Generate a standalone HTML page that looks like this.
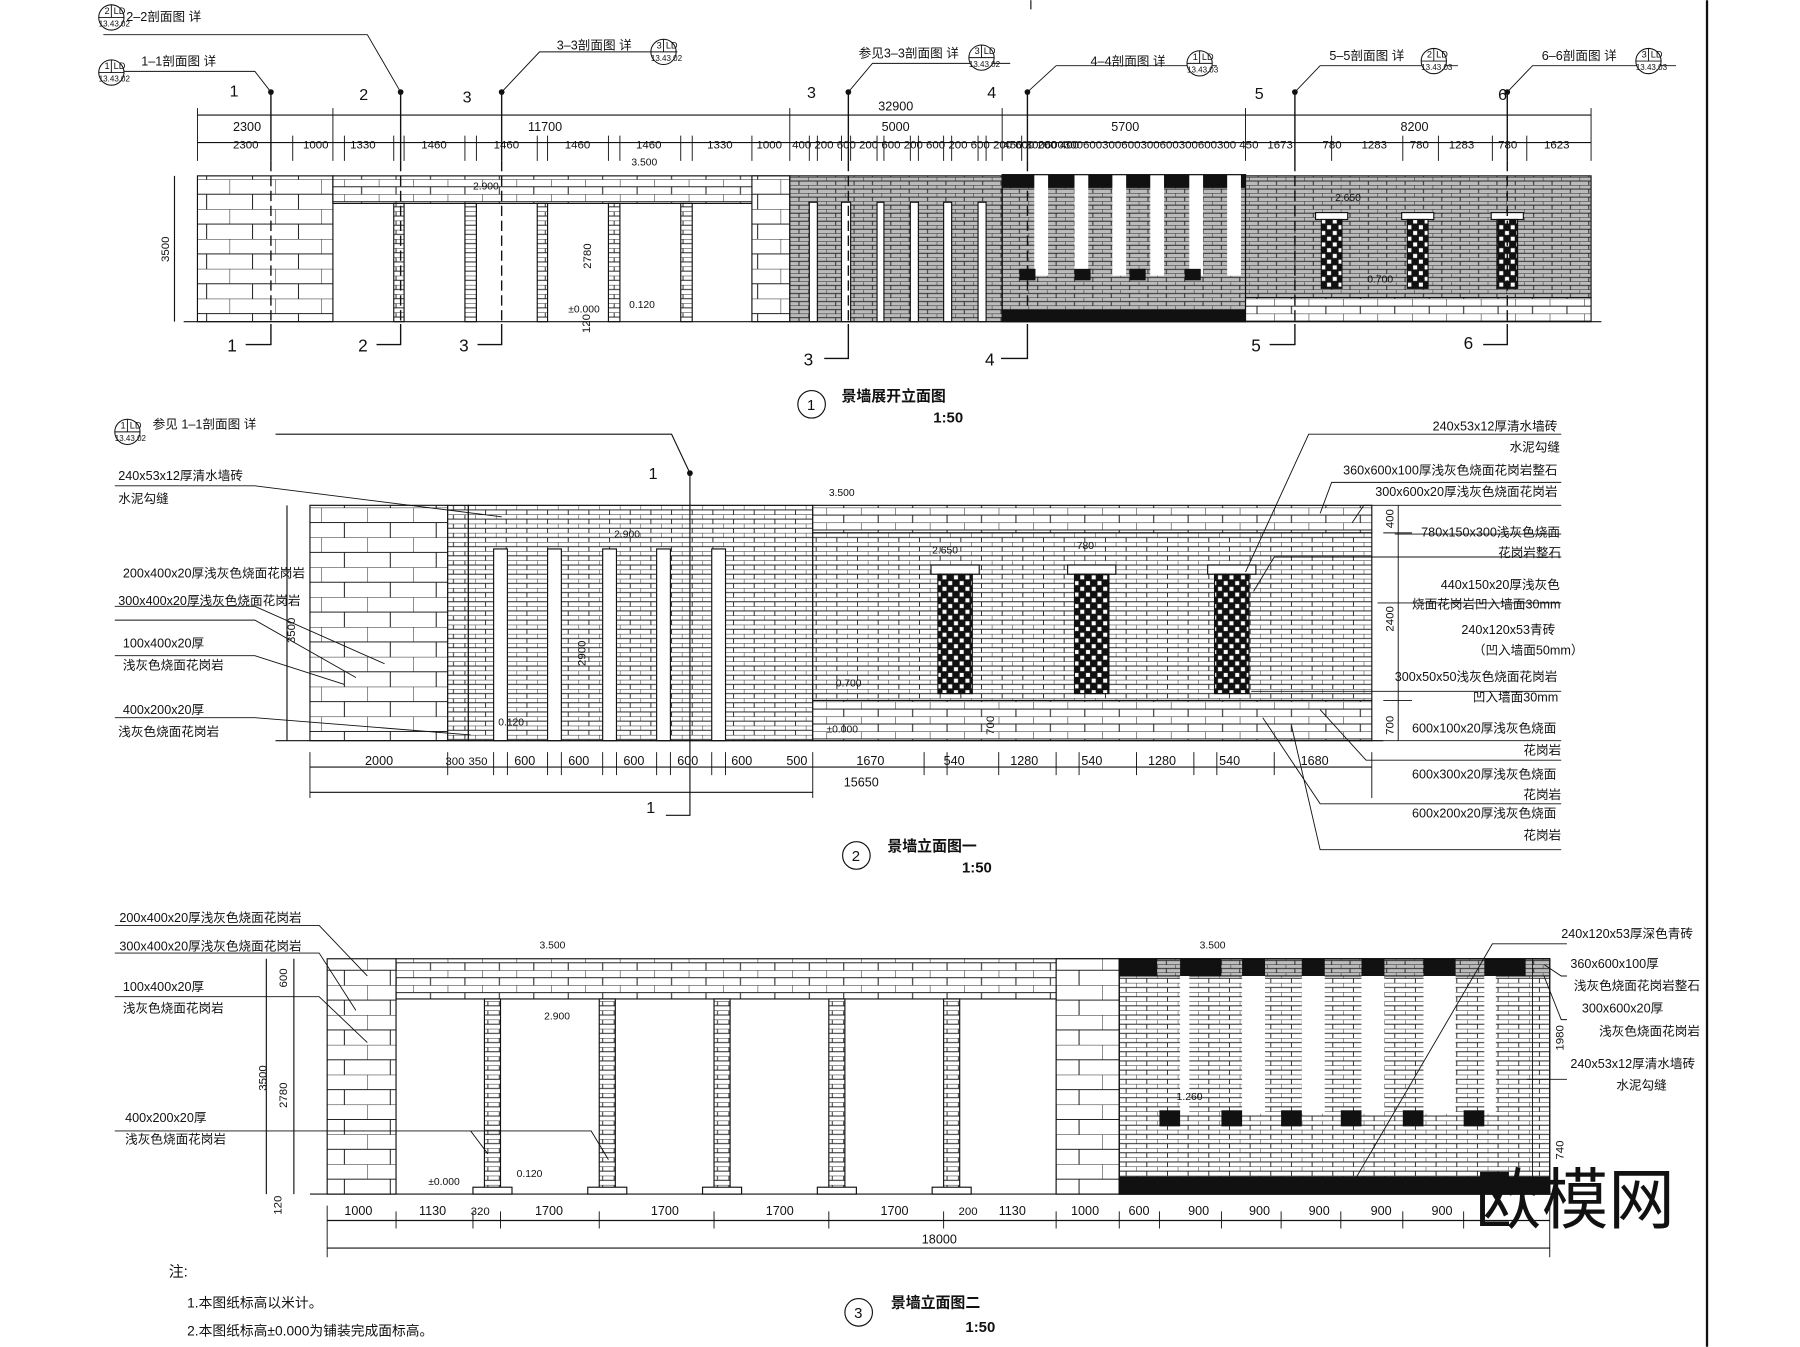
<!DOCTYPE html>
<html><head><meta charset="utf-8"><style>
html,body{margin:0;padding:0;background:#fff}
svg{display:block}
text{font-family:"Liberation Sans","Noto Sans CJK SC",sans-serif;fill:#111}
</style></head><body>
<svg width="1800" height="1347" viewBox="0 0 1568 1173" xmlns="http://www.w3.org/2000/svg">
<defs>
<pattern id="brk" width="18" height="8" patternUnits="userSpaceOnUse">
<rect width="18" height="8" fill="#fff"/>
<path d="M0 0H18M0 4H18M0 0V4M9 4V8" stroke="#222" stroke-width="0.8" fill="none"/>
</pattern>
<pattern id="brk2" width="16" height="7" patternUnits="userSpaceOnUse">
<rect width="16" height="7" fill="#bbb"/>
<path d="M0 0H16M0 3.5H16M0 0V3.5M8 3.5V7" stroke="#222" stroke-width="0.8" fill="none"/>
</pattern>
<pattern id="stn" width="40" height="26" patternUnits="userSpaceOnUse">
<rect width="40" height="26" fill="#fff"/>
<path d="M0 0H40M0 13H40M0 0V13M20 13V26" stroke="#222" stroke-width="0.9" fill="none"/>
</pattern>
<pattern id="stn2" width="30" height="13" patternUnits="userSpaceOnUse">
<rect width="30" height="13" fill="#fff"/>
<path d="M0 0H30M0 6.5H30M0 0V6.5M15 6.5V13" stroke="#222" stroke-width="0.9" fill="none"/>
</pattern>
<pattern id="col" width="10" height="8" patternUnits="userSpaceOnUse">
<rect width="10" height="8" fill="#fff"/>
<path d="M0 0H10M0 4H10M5 0V4" stroke="#222" stroke-width="0.8"/>
</pattern>
<pattern id="chk" width="10" height="10" patternUnits="userSpaceOnUse">
<rect width="10" height="10" fill="#111"/>
<rect x="1" y="1" width="3.5" height="3.5" fill="#fff"/><rect x="6" y="6" width="3.5" height="3.5" fill="#fff"/>
</pattern>
<g id="sym">
<circle cx="0" cy="0" r="11" fill="#fff" stroke="#111" stroke-width="0.9"/>
<line x1="-11" y1="0" x2="11" y2="0" stroke="#111" stroke-width="0.8"/>
<line x1="0" y1="-11" x2="0" y2="0" stroke="#111" stroke-width="0.8"/>
</g>
</defs>
<g stroke="#111" fill="none" stroke-width="1">
<line x1="1487" y1="0" x2="1487" y2="1173" stroke-width="2"/>
<line x1="898" y1="0" x2="898" y2="8"/>

<!-- ============ SECTION 1 ============ -->
<line x1="172" y1="100" x2="1386" y2="100"/>
<line x1="172" y1="124" x2="1386" y2="124"/>
<g stroke-width="0.8">
<path d="M172 94V140M290 94V140M688 94V140M873 94V140M1085 94V140M1386 94V140"/>
<path d="M255 118V140M300 118V140M343 118V140M352 118V140M405 118V140M415 118V140M468 118V140M477 118V140M530 118V140M540 118V140M593 118V140M603 118V140M655 118V140M705 118V140M712 118V140M733 118V140M741 118V140M764 118V140M770 118V140M793 118V140M800 118V140M822 118V140M829 118V140M852 118V140M859 118V140M890 118V140M1128 118V140M1160 118V140M1222 118V140M1253 118V140M1300 118V140M1330 118V140"/>
</g>
<rect x="172" y="153" width="118" height="127" fill="url(#stn)"/>
<rect x="290" y="153" width="398" height="24" fill="url(#stn2)"/>
<rect x="655" y="153" width="33" height="127" fill="url(#stn)"/>
<g fill="url(#col)">
<rect x="343" y="177" width="9" height="103"/><rect x="405" y="177" width="10" height="103"/>
<rect x="468" y="177" width="9" height="103"/><rect x="530" y="177" width="10" height="103"/>
<rect x="593" y="177" width="10" height="103"/>
</g>
<rect x="688" y="153" width="185" height="127" fill="url(#brk2)"/>
<g fill="#fff"><rect x="705" y="176" width="7" height="104"/><rect x="733" y="176" width="8" height="104"/><rect x="764" y="176" width="6" height="104"/><rect x="793" y="176" width="7" height="104"/><rect x="822" y="176" width="7" height="104"/><rect x="852" y="176" width="7" height="104"/></g>
<rect x="873" y="153" width="212" height="127" fill="url(#brk2)"/>
<rect x="873" y="152" width="212" height="11" fill="#111"/>
<rect x="873" y="270" width="212" height="10" fill="#111"/>
<g fill="#fff" stroke="none"><rect x="901" y="152" width="12" height="88"/><rect x="936" y="152" width="12" height="88"/><rect x="969" y="152" width="12" height="88"/><rect x="1002" y="152" width="12" height="88"/><rect x="1036" y="152" width="12" height="88"/><rect x="1069" y="152" width="12" height="88"/></g>
<g fill="#111" stroke="none"><rect x="888" y="234" width="14" height="10"/><rect x="936" y="234" width="14" height="10"/><rect x="984" y="234" width="14" height="10"/><rect x="1032" y="234" width="14" height="10"/></g>
<rect x="873" y="152" width="212" height="128"/>
<rect x="1085" y="153" width="301" height="106" fill="url(#brk2)"/>
<rect x="1085" y="259" width="301" height="21" fill="url(#stn2)"/>
<g><rect x="1146" y="185" width="28" height="6" fill="#fff"/><rect x="1151" y="191" width="18" height="60" fill="url(#chk)"/>
<rect x="1221" y="185" width="28" height="6" fill="#fff"/><rect x="1226" y="191" width="18" height="60" fill="url(#chk)"/>
<rect x="1299" y="185" width="28" height="6" fill="#fff"/><rect x="1304" y="191" width="18" height="60" fill="url(#chk)"/></g>
<line x1="160" y1="280" x2="1395" y2="280"/>
<line x1="152" y1="153" x2="152" y2="280"/>
<!-- cut lines -->
<g stroke-width="1.2" stroke-dasharray="9 4">
<path d="M236 140V282M349 140V282M437 140V282M739 140V282M895 140V282M1128 140V282M1313 140V282"/>
</g>
<g stroke-width="1.2">
<path d="M236 80V140M349 80V140M437 80V140M739 80V140M895 80V140M1128 80V140M1313 80V140"/>
<path d="M236 282V300H214M349 282V300H328M437 282V300H416M739 282V312H718M895 282V312H872M1128 282V300H1106M1313 282V300H1292"/>
</g>
<path d="M236 80L222 62H90M349 80L320 30H90M437 80L470 45H590M739 80L760 55H880M895 80L920 57H1060M1128 80L1150 57H1270M1313 80L1335 57H1460" stroke-width="0.8"/>
<g fill="#111" stroke="none"><circle cx="236" cy="80" r="2.5"/><circle cx="349" cy="80" r="2.5"/><circle cx="437" cy="80" r="2.5"/><circle cx="739" cy="80" r="2.5"/><circle cx="895" cy="80" r="2.5"/><circle cx="1128" cy="80" r="2.5"/><circle cx="1313" cy="80" r="2.5"/></g>
<circle cx="707" cy="352" r="12"/>

<!-- ============ SECTION 2 ============ -->
<rect x="270" y="440" width="120" height="205" fill="url(#stn)"/>
<rect x="390" y="440" width="18" height="205" fill="url(#col)"/>
<rect x="408" y="440" width="300" height="205" fill="url(#brk)"/>
<g fill="#fff"><rect x="430" y="478" width="12" height="167"/><rect x="477" y="478" width="12" height="167"/><rect x="525" y="478" width="12" height="167"/><rect x="572" y="478" width="12" height="167"/><rect x="620" y="478" width="12" height="167"/></g>
<rect x="708" y="440" width="487" height="24" fill="url(#stn2)"/>
<rect x="708" y="464" width="487" height="146" fill="url(#brk)"/>
<rect x="708" y="610" width="487" height="35" fill="url(#stn2)"/>
<g><rect x="811" y="492" width="42" height="8" fill="#fff"/><rect x="817" y="500" width="30" height="104" fill="url(#chk)"/>
<rect x="930" y="492" width="42" height="8" fill="#fff"/><rect x="936" y="500" width="30" height="104" fill="url(#chk)"/>
<rect x="1052" y="492" width="42" height="8" fill="#fff"/><rect x="1058" y="500" width="30" height="104" fill="url(#chk)"/></g>
<line x1="240" y1="645" x2="1205" y2="645"/>
<line x1="250" y1="440" x2="250" y2="645"/>
<line x1="270" y1="668" x2="1195" y2="668"/><line x1="270" y1="690" x2="708" y2="690"/>
<path d="M270 655V695M390 655V675M430 655V675M442 655V675M477 655V675M489 655V675M525 655V675M537 655V675M572 655V675M584 655V675M620 655V675M632 655V675M708 655V695M805 655V675M825 655V675M870 655V675M920 655V675M940 655V675M990 655V675M1040 655V675M1060 655V675M1110 655V675M1195 655V695" stroke-width="0.8"/>
<path d="M1218 440V645M1205 464H1230M1205 610H1230" stroke-width="0.8"/>
<path d="M601 412V710H580M601 412L585 378H240" stroke-width="1"/>
<circle cx="601" cy="412" r="2.5" fill="#111" stroke="none"/>
<g stroke-width="0.8">
<path d="M100 423H222L437 450M100 528H222L335 578M100 540H222L310 590M100 571H222L300 596M100 625H222L410 640"/>
<path d="M1150 447L1160 420H1360M1178 455L1188 440H1360M1215 465H1360M1085 498L1140 378H1360M1092 515L1110 485H1360M1200 525H1360M1090 602H1360M1175 645H1360M1150 618L1190 662H1360M1100 625L1150 700H1360M1125 632L1150 740H1360"/>
</g>
<circle cx="746" cy="745" r="12"/>

<!-- ============ SECTION 3 ============ -->
<rect x="285" y="835" width="60" height="205" fill="url(#stn)"/>
<rect x="345" y="835" width="630" height="35" fill="url(#stn2)"/>
<rect x="920" y="835" width="55" height="205" fill="url(#stn)"/>
<g fill="url(#col)"><rect x="422" y="870" width="14" height="165"/><rect x="522" y="870" width="14" height="165"/><rect x="622" y="870" width="14" height="165"/><rect x="722" y="870" width="14" height="165"/><rect x="822" y="870" width="14" height="165"/></g>
<g fill="#fff"><rect x="412" y="1034" width="34" height="6"/><rect x="512" y="1034" width="34" height="6"/><rect x="612" y="1034" width="34" height="6"/><rect x="712" y="1034" width="34" height="6"/><rect x="812" y="1034" width="34" height="6"/></g>
<rect x="975" y="835" width="375" height="205" fill="url(#brk)"/>
<rect x="975" y="835" width="375" height="15" fill="url(#brk2)"/>
<rect x="975" y="1025" width="375" height="15" fill="#111"/>
<g fill="#111" stroke="none"><rect x="1028" y="835" width="36" height="15"/><rect x="1082" y="835" width="20" height="15"/><rect x="1134" y="835" width="20" height="15"/><rect x="1186" y="835" width="20" height="15"/><rect x="1240" y="835" width="28" height="15"/><rect x="1293" y="835" width="36" height="15"/><rect x="975" y="835" width="33" height="15"/></g>
<g fill="#fff" stroke="none"><rect x="1028" y="850" width="8" height="120"/><rect x="1082" y="850" width="20" height="120"/><rect x="1134" y="850" width="20" height="120"/><rect x="1186" y="850" width="20" height="120"/><rect x="1240" y="850" width="28" height="120"/><rect x="1293" y="850" width="10" height="120"/></g>
<g fill="#111" stroke="none"><rect x="1010" y="967" width="18" height="14"/><rect x="1064" y="967" width="18" height="14"/><rect x="1116" y="967" width="18" height="14"/><rect x="1168" y="967" width="18" height="14"/><rect x="1222" y="967" width="18" height="14"/><rect x="1275" y="967" width="18" height="14"/></g>
<rect x="975" y="835" width="375" height="205"/>
<line x1="270" y1="1040" x2="1360" y2="1040"/>
<line x1="232" y1="835" x2="232" y2="1040"/><line x1="256" y1="835" x2="256" y2="1040"/>
<line x1="285" y1="1063" x2="1350" y2="1063"/><line x1="285" y1="1087" x2="1350" y2="1087"/>
<path d="M285 1050V1095M345 1055V1070M412 1055V1070M436 1055V1070M522 1055V1070M622 1055V1070M722 1055V1070M822 1055V1070M920 1055V1070M975 1055V1070M1010 1055V1070M1064 1055V1070M1116 1055V1070M1168 1055V1070M1222 1055V1070M1275 1055V1070M1350 1050V1095" stroke-width="0.8"/>
<path d="M1335 835V1040" stroke-width="0.8"/>
<g stroke-width="0.8">
<path d="M100 806H278L320 850M100 830H278L310 880M100 868H278L320 908M100 985H410L425 1005M410 985H515L530 1010"/>
<path d="M1180 1028L1300 822H1365M1345 840L1360 850H1365M1345 850L1360 888H1365M1330 940H1365"/>
</g>
<circle cx="748" cy="1143" r="12"/>
</g>

<!-- section symbols -->
<g font-size="8">
<use href="#sym" x="97" y="15"/><text x="91" y="12">2</text><text x="99" y="12">LD</text><text x="86" y="23" font-size="7">13.43.02</text>
<use href="#sym" x="97" y="63"/><text x="91" y="60">1</text><text x="99" y="60">LD</text><text x="86" y="71" font-size="7">13.43.02</text>
<use href="#sym" x="578" y="45"/><text x="572" y="42">3</text><text x="580" y="42">LD</text><text x="567" y="53" font-size="7">13.43.02</text>
<use href="#sym" x="855" y="50"/><text x="849" y="47">3</text><text x="857" y="47">LD</text><text x="844" y="58" font-size="7">13.43.02</text>
<use href="#sym" x="1045" y="55"/><text x="1039" y="52">1</text><text x="1047" y="52">LD</text><text x="1034" y="63" font-size="7">13.43.03</text>
<use href="#sym" x="1249" y="53"/><text x="1243" y="50">2</text><text x="1251" y="50">LD</text><text x="1238" y="61" font-size="7">13.43.03</text>
<use href="#sym" x="1436" y="53"/><text x="1430" y="50">3</text><text x="1438" y="50">LD</text><text x="1425" y="61" font-size="7">13.43.03</text>
<use href="#sym" x="111" y="376"/><text x="105" y="373">1</text><text x="113" y="373">LD</text><text x="100" y="384" font-size="7">13.43.02</text>
</g>

<g font-size="11">
<text x="110" y="18">2–2剖面图 详</text><text x="123" y="57">1–1剖面图 详</text>
<text x="485" y="43">3–3剖面图 详</text><text x="748" y="50">参见3–3剖面图 详</text>
<text x="950" y="57">4–4剖面图 详</text><text x="1158" y="52">5–5剖面图 详</text><text x="1343" y="52">6–6剖面图 详</text>
<text x="200" y="84" font-size="14">1</text><text x="313" y="87" font-size="14">2</text><text x="403" y="89" font-size="14">3</text><text x="703" y="85" font-size="14">3</text><text x="860" y="85" font-size="14">4</text><text x="1093" y="86" font-size="14">5</text><text x="1305" y="87" font-size="14">6</text>
<text x="198" y="306" font-size="15">1</text><text x="312" y="306" font-size="15">2</text><text x="400" y="306" font-size="15">3</text><text x="700" y="318" font-size="15">3</text><text x="858" y="318" font-size="15">4</text><text x="1090" y="306" font-size="15">5</text><text x="1275" y="304" font-size="15">6</text>
<text x="765" y="96">32900</text>
<text x="203" y="114">2300</text><text x="460" y="114">11700</text><text x="768" y="114">5000</text><text x="968" y="114">5700</text><text x="1220" y="114">8200</text>
<text x="203" y="129" font-size="10">2300</text><text x="264" y="129" font-size="10">1000</text><text x="305" y="129" font-size="10">1330</text><text x="367" y="129" font-size="10">1460</text><text x="430" y="129" font-size="10">1460</text><text x="492" y="129" font-size="10">1460</text><text x="554" y="129" font-size="10">1460</text><text x="616" y="129" font-size="10">1330</text><text x="659" y="129" font-size="10">1000</text>
<text x="690" y="129" font-size="10">400 200 600 200 600 200 600 200 600 200 600 200 400</text>
<text x="874" y="129" font-size="10">450 300600300600300600300600300600300 450</text>
<text x="1104" y="129" font-size="10">1673</text><text x="1152" y="129" font-size="10">780</text><text x="1186" y="129" font-size="10">1283</text><text x="1228" y="129" font-size="10">780</text><text x="1262" y="129" font-size="10">1283</text><text x="1305" y="129" font-size="10">780</text><text x="1345" y="129" font-size="10">1623</text>
<text x="550" y="144" font-size="9">3.500</text><text x="412" y="165" font-size="9">2.900</text><text x="495" y="272" font-size="9">±0.000</text><text x="548" y="268" font-size="9">0.120</text>
<text x="1163" y="175" font-size="9">2.650</text><text x="1191" y="246" font-size="9">0.700</text>
<text transform="translate(147 228) rotate(-90)" font-size="10">3500</text>
<text transform="translate(515 234) rotate(-90)" font-size="10">2780</text>
<text transform="translate(514 290) rotate(-90)" font-size="10">120</text>
<text x="733" y="349" font-size="13" font-weight="bold">景墙展开立面图</text><text x="813" y="368" font-size="13" font-weight="bold">1:50</text>
<text x="703" y="357" font-size="13">1</text>

<text x="133" y="373">参见 1–1剖面图 详</text>
<text x="103" y="418">240x53x12厚清水墙砖</text><text x="103" y="438">水泥勾缝</text>
<text x="107" y="503">200x400x20厚浅灰色烧面花岗岩</text><text x="103" y="527">300x400x20厚浅灰色烧面花岗岩</text>
<text x="107" y="564">100x400x20厚</text><text x="107" y="583">浅灰色烧面花岗岩</text>
<text x="107" y="622">400x200x20厚</text><text x="103" y="641">浅灰色烧面花岗岩</text>
<text x="565" y="417" font-size="14">1</text><text x="563" y="708" font-size="14">1</text>
<text x="1248" y="375">240x53x12厚清水墙砖</text><text x="1315" y="393">水泥勾缝</text>
<text x="1170" y="413">360x600x100厚浅灰色烧面花岗岩整石</text><text x="1198" y="432">300x600x20厚浅灰色烧面花岗岩</text>
<text x="1238" y="467">780x150x300浅灰色烧面</text><text x="1305" y="485">花岗岩整石</text>
<text x="1255" y="513">440x150x20厚浅灰色</text><text x="1230" y="530">烧面花岗岩凹入墙面30mm</text>
<text x="1273" y="552">240x120x53青砖</text><text x="1283" y="570">（凹入墙面50mm）</text>
<text x="1215" y="593">300x50x50浅灰色烧面花岗岩</text><text x="1283" y="611">凹入墙面30mm</text>
<text x="1230" y="638">600x100x20厚浅灰色烧面</text><text x="1327" y="657">花岗岩</text>
<text x="1230" y="678">600x300x20厚浅灰色烧面</text><text x="1327" y="696">花岗岩</text>
<text x="1230" y="712">600x200x20厚浅灰色烧面</text><text x="1327" y="731">花岗岩</text>
<text x="722" y="432" font-size="9">3.500</text><text x="535" y="468" font-size="9">2.900</text><text x="812" y="482" font-size="9">2.650</text><text x="728" y="598" font-size="9">0.700</text><text x="720" y="638" font-size="9">±0.000</text><text x="434" y="632" font-size="9">0.120</text>
<text x="938" y="478" font-size="9">780</text>
<text transform="translate(257 560) rotate(-90)" font-size="10">3500</text>
<text transform="translate(1214 460) rotate(-90)" font-size="10">400</text>
<text transform="translate(1214 550) rotate(-90)" font-size="10">2400</text>
<text transform="translate(1214 640) rotate(-90)" font-size="10">700</text>
<text transform="translate(866 640) rotate(-90)" font-size="10">700</text>
<text transform="translate(510 580) rotate(-90)" font-size="10">2900</text>
<text x="318" y="666" font-size="11">2000</text><text x="388" y="666" font-size="10">300</text><text x="408" y="666" font-size="10">350</text><text x="448" y="666">600</text><text x="495" y="666">600</text><text x="543" y="666">600</text><text x="590" y="666">600</text><text x="637" y="666">600</text><text x="685" y="666">500</text>
<text x="746" y="666">1670</text><text x="822" y="666">540</text><text x="880" y="666">1280</text><text x="942" y="666">540</text><text x="1000" y="666">1280</text><text x="1062" y="666">540</text><text x="1133" y="666">1680</text>
<text x="735" y="685">15650</text>
<text x="773" y="741" font-size="13" font-weight="bold">景墙立面图一</text><text x="838" y="760" font-size="13" font-weight="bold">1:50</text>
<text x="742" y="750" font-size="13">2</text>

<text x="104" y="803">200x400x20厚浅灰色烧面花岗岩</text><text x="104" y="828">300x400x20厚浅灰色烧面花岗岩</text>
<text x="107" y="863">100x400x20厚</text><text x="107" y="882">浅灰色烧面花岗岩</text>
<text x="109" y="977">400x200x20厚</text><text x="109" y="996">浅灰色烧面花岗岩</text>
<text x="1360" y="817">240x120x53厚深色青砖</text><text x="1368" y="843">360x600x100厚</text><text x="1371" y="862">浅灰色烧面花岗岩整石</text>
<text x="1378" y="882">300x600x20厚</text><text x="1393" y="902">浅灰色烧面花岗岩</text>
<text x="1368" y="930">240x53x12厚清水墙砖</text><text x="1408" y="949">水泥勾缝</text>
<text x="470" y="826" font-size="9">3.500</text><text x="474" y="888" font-size="9">2.900</text><text x="1045" y="826" font-size="9">3.500</text><text x="1025" y="958" font-size="9">1.260</text>
<text x="373" y="1032" font-size="9">±0.000</text><text x="450" y="1025" font-size="9">0.120</text>
<text transform="translate(232 950) rotate(-90)" font-size="10">3500</text>
<text transform="translate(250 965) rotate(-90)" font-size="10">2780</text>
<text transform="translate(250 860) rotate(-90)" font-size="10">600</text>
<text transform="translate(245 1058) rotate(-90)" font-size="10">120</text>
<text transform="translate(1362 915) rotate(-90)" font-size="10">1980</text>
<text transform="translate(1362 1010) rotate(-90)" font-size="10">740</text>
<text x="300" y="1058">1000</text><text x="365" y="1058">1130</text><text x="410" y="1058" font-size="10">320</text><text x="466" y="1058">1700</text><text x="567" y="1058">1700</text><text x="667" y="1058">1700</text><text x="767" y="1058">1700</text><text x="835" y="1058" font-size="10">200</text><text x="870" y="1058">1130</text><text x="933" y="1058">1000</text>
<text x="983" y="1058">600</text><text x="1035" y="1058">900</text><text x="1088" y="1058">900</text><text x="1140" y="1058">900</text><text x="1194" y="1058">900</text><text x="1247" y="1058">900</text>
<text x="803" y="1083">18000</text>
<text x="147" y="1112" font-size="13">注:</text>
<text x="163" y="1139" font-size="12">1.本图纸标高以米计。</text><text x="163" y="1163" font-size="12">2.本图纸标高±0.000为铺装完成面标高。</text>
<text x="776" y="1139" font-size="13" font-weight="bold">景墙立面图二</text><text x="841" y="1160" font-size="13" font-weight="bold">1:50</text>
<text x="744" y="1148" font-size="13">3</text>
<text x="1285" y="1065" font-size="58" fill="#333">欧模网</text>
</g>
</svg>
</body></html>
